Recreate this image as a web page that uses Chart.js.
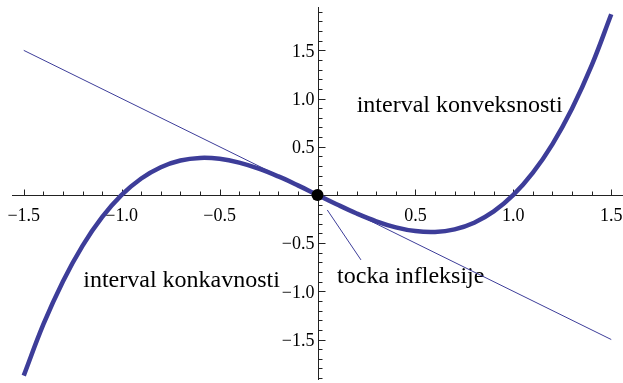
<!DOCTYPE html>
<html>
<head>
<meta charset="utf-8">
<script src="https://cdn.jsdelivr.net/npm/chart.js@4.4.1/dist/chart.umd.min.js"></script>
<style>
  html, body { margin: 0; padding: 0; background: #fff; overflow: hidden; }
  canvas { display: block; }
</style>
</head>
<body>
<canvas id="c" width="623" height="383" style="width:623px;height:383px"></canvas>
<script>
// f(x) = x^3 - x sampled on [-1.5, 1.5]
const curveX = [-1.5, -1.4, -1.3, -1.2, -1.1, -1.0, -0.9, -0.8, -0.7, -0.6, -0.5, -0.4, -0.3, -0.2, -0.1,
                0, 0.1, 0.2, 0.3, 0.4, 0.5, 0.6, 0.7, 0.8, 0.9, 1.0, 1.1, 1.2, 1.3, 1.4, 1.5];
const curveY = [-1.875, -1.344, -0.897, -0.528, -0.231, 0, 0.171, 0.288, 0.357, 0.384, 0.375, 0.336, 0.273, 0.192, 0.099,
                0, -0.099, -0.192, -0.273, -0.336, -0.375, -0.384, -0.357, -0.288, -0.171, 0, 0.231, 0.528, 0.897, 1.344, 1.875];

// tangent at the inflection point
const tangentX = [-1.5, 1.5];
const tangentY = [1.5, -1.5];

// inflection point
const inflectionX = [0];
const inflectionY = [0];

// pointer from the label to the inflection point
const pointerX = [0.05, 0.222];
const pointerY = [-0.156, -0.674];

// axis ticks
const xTickLabels = ['−1.5', '−1.0', '−0.5', '0.5', '1.0', '1.5'];
const xTickValues = [-1.5, -1.0, -0.5, 0.5, 1.0, 1.5];
const yTickLabels = ['1.5', '1.0', '0.5', '−0.5', '−1.0', '−1.5'];
const yTickValues = [1.5, 1.0, 0.5, -0.5, -1.0, -1.5];

// annotation texts with their anchor (left edge, baseline) in data units
const notes = [
  { text: 'interval konveksnosti', x: 0.2, y: 0.858 },
  { text: 'interval konkavnosti', x: -1.196, y: -0.951 },
  { text: 'tocka infleksije', x: 0.1, y: -0.916 }
];

const pts = (xs, ys) => xs.map((x, i) => ({ x: x, y: ys[i] }));
const blue = '#3d3d99';

const axesPlugin = {
  id: 'centerAxes',
  beforeDatasetsDraw(chart) {
    const ctx = chart.ctx;
    const xs = chart.scales.x, ys = chart.scales.y;
    const area = chart.chartArea;
    const x0 = Math.round(xs.getPixelForValue(0)) + 0.5;
    const y0 = Math.round(ys.getPixelForValue(0)) + 0.5;
    ctx.save();
    ctx.strokeStyle = '#222';
    ctx.lineWidth = 1;
    ctx.beginPath();
    ctx.moveTo(area.left, y0); ctx.lineTo(area.right, y0);
    ctx.moveTo(x0, area.top); ctx.lineTo(x0, area.bottom);
    ctx.stroke();

    // x ticks every 0.1, major every 0.5
    ctx.beginPath();
    for (let k = -15; k <= 15; k++) {
      if (k === 0) continue;
      const px = Math.round(xs.getPixelForValue(k / 10)) + 0.5;
      const len = (k % 5 === 0) ? 6 : 4;
      ctx.moveTo(px, y0); ctx.lineTo(px, y0 - len);
    }
    // y ticks every 0.1, major every 0.5
    for (let k = -19; k <= 19; k++) {
      if (k === 0) continue;
      const py = Math.round(ys.getPixelForValue(k / 10)) + 0.5;
      const len = (k % 5 === 0) ? 7 : 4;
      ctx.moveTo(x0, py); ctx.lineTo(x0 + len, py);
    }
    ctx.stroke();

    ctx.fillStyle = '#000';
    ctx.font = '18px "Liberation Serif", "Times New Roman", serif';
    ctx.textAlign = 'center';
    ctx.textBaseline = 'alphabetic';
    xTickValues.forEach((v, i) => {
      ctx.fillText(xTickLabels[i], xs.getPixelForValue(v), y0 + 25);
    });
    ctx.textAlign = 'right';
    ctx.textBaseline = 'middle';
    yTickValues.forEach((v, i) => {
      ctx.fillText(yTickLabels[i], x0 - 4, ys.getPixelForValue(v) + 1.5);
    });

    ctx.font = '24px "Liberation Serif", "Times New Roman", serif';
    ctx.textAlign = 'left';
    ctx.textBaseline = 'alphabetic';
    notes.forEach(n => {
      ctx.fillText(n.text, xs.getPixelForValue(n.x), ys.getPixelForValue(n.y));
    });
    ctx.restore();
  }
};

new Chart(document.getElementById('c'), {
  type: 'scatter',
  data: {
    datasets: [
      { data: pts(inflectionX, inflectionY), showLine: false, pointRadius: 6, pointBackgroundColor: '#000', pointBorderWidth: 0, order: 0, clip: false },
      { data: pts(curveX, curveY), showLine: true, borderColor: blue, borderWidth: 4.5, pointRadius: 0, tension: 0.4, borderCapStyle: 'butt', order: 1, clip: false },
      { data: pts(tangentX, tangentY), showLine: true, borderColor: blue, borderWidth: 1, pointRadius: 0, order: 2 },
      { data: pts(pointerX, pointerY), showLine: true, borderColor: blue, borderWidth: 1, pointRadius: 0, order: 3 }
    ]
  },
  options: {
    responsive: false,
    devicePixelRatio: 1,
    animation: false,
    events: [],
    layout: { autoPadding: false, padding: { left: 12, right: 0, top: 7, bottom: 3 } },
    plugins: { legend: { display: false }, tooltip: { enabled: false } },
    scales: {
      x: { type: 'linear', display: false, min: -1.56, max: 1.56 },
      y: { type: 'linear', display: false, min: -1.92, max: 1.95 }
    }
  },
  plugins: [axesPlugin]
});
</script>
</body>
</html>
